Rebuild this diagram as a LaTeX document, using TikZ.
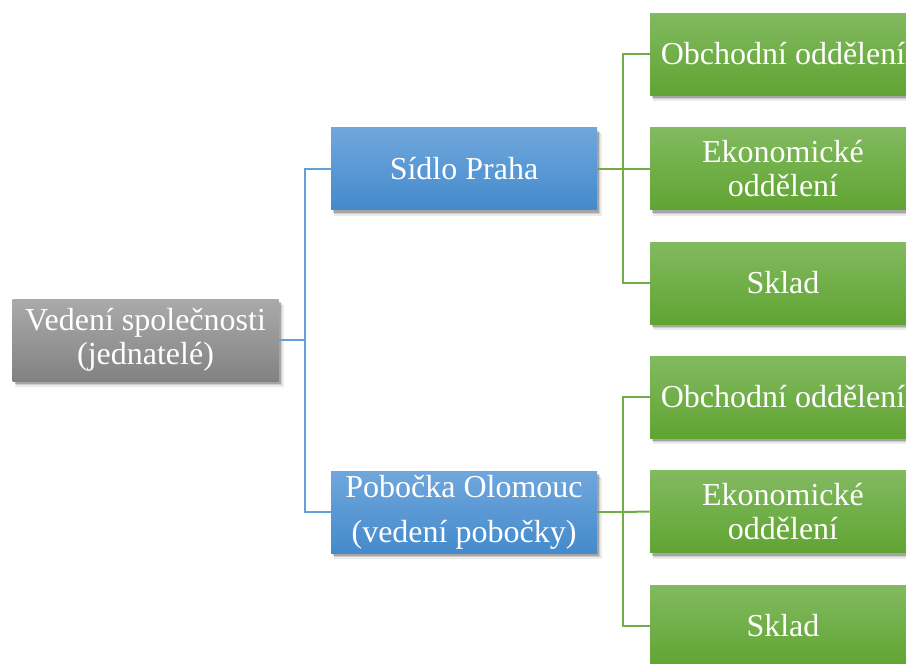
\documentclass[tikz,border=0pt]{standalone}
\usepackage{fontspec}
\setmainfont{Liberation Serif}
\usetikzlibrary{shadows}
\definecolor{blueline}{RGB}{100,160,215}
\definecolor{greenline}{RGB}{112,173,71}
\definecolor{graytop}{RGB}{170,170,170}
\definecolor{graybot}{RGB}{130,130,130}
\definecolor{bluetop}{RGB}{112,167,220}
\definecolor{bluebot}{RGB}{68,138,204}
\definecolor{greentop}{RGB}{130,186,96}
\definecolor{greenbot}{RGB}{96,164,50}
\begin{document}
\begin{tikzpicture}[x=0.5pt,y=-0.5pt,
  box/.style={minimum width=133pt, minimum height=41pt, inner sep=0pt, align=center,
    text=white, font=\fontsize{16}{17}\selectfont,
    drop shadow={shadow xshift=2pt, shadow yshift=-3pt, opacity=0.08, fill=black, shadow scale=1.01},
    drop shadow={shadow xshift=1.5pt, shadow yshift=-2.2pt, opacity=0.12, fill=black},
    drop shadow={shadow xshift=1pt, shadow yshift=-1.5pt, opacity=0.2, fill=black}},
  graybox/.style={box, top color=graytop, bottom color=graybot},
  bluebox/.style={box, top color=bluetop, bottom color=bluebot},
  greenbox/.style={box, top color=greentop, bottom color=greenbot},
  bconn/.style={draw=blueline, line width=1pt},
  gconn/.style={draw=greenline, line width=1pt}]
\useasboundingbox (0,0) rectangle (906,664);
\node[graybox] (g) at (145.5,340) {Vedení společnosti\\(jednatelé)};
\node[bluebox] (s) at (464,168.5) {Sídlo Praha};
\node[bluebox, font=\fontsize{16}{22.5}\selectfont] (p) at (464,512) {Pobočka Olomouc\\(vedení pobočky)};
\node[greenbox] (o1) at (783,54) {Obchodní oddělení};
\node[greenbox] (e1) at (783,168.5) {Ekonomické\\oddělení};
\node[greenbox] (k1) at (783,283) {Sklad};
\node[greenbox] (o2) at (783,397) {Obchodní oddělení};
\node[greenbox] (e2) at (783,511.5) {Ekonomické\\oddělení};
\node[greenbox] (k2) at (783,626) {Sklad};
\coordinate (bj) at (305,340);
\coordinate (gj1) at (623,168.5);
\coordinate (gj2) at (623,512);
\draw[bconn] (g.east) -- (bj);
\draw[bconn] (bj) |- (s.west);
\draw[bconn] (bj) |- (p.west);
\draw[gconn] (s.east) -- (gj1);
\draw[gconn] (gj1) |- (o1.west);
\draw[gconn] (gj1) -- (e1.west);
\draw[gconn] (gj1) |- (k1.west);
\draw[gconn] (p.east) -- (gj2);
\draw[gconn] (gj2) |- (o2.west);
\draw[gconn] (gj2) -- (e2.west);
\draw[gconn] (gj2) |- (k2.west);
\end{tikzpicture}
\end{document}
